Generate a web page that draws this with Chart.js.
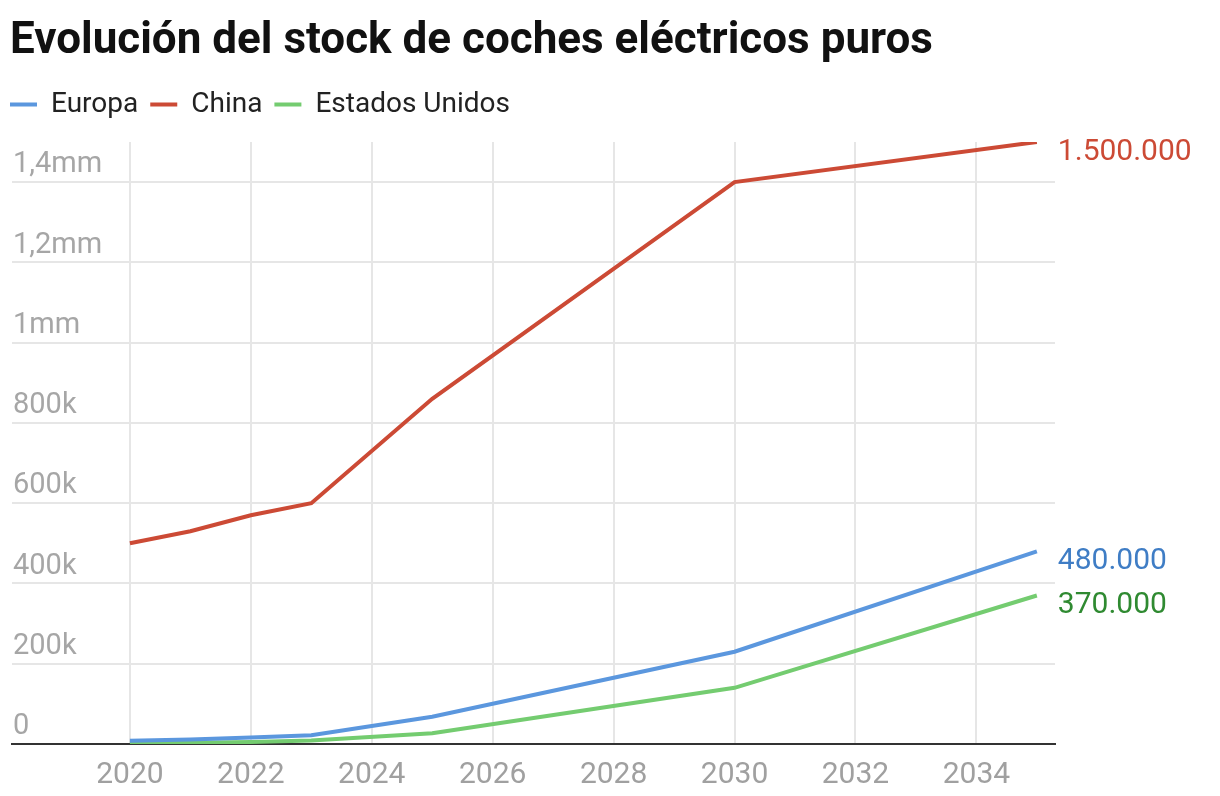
<!DOCTYPE html>
<html>
<head>
<meta charset="utf-8">
<script src="https://cdn.jsdelivr.net/npm/chart.js@4.4.1/dist/chart.umd.min.js"></script>
<style>
  html, body { margin: 0; padding: 0; background: #fff; }
  #wrap { width: 1220px; height: 796px; position: relative; }
</style>
</head>
<body>
<div id="wrap"><canvas id="stockChart"></canvas></div>
<script>
    const years = [2020, 2021, 2022, 2023, 2025, 2030, 2035];
    const europa = [8000, 11000, 16000, 22000, 68000, 230000, 480000];
    const china = [500000, 530000, 570000, 600000, 860000, 1400000, 1500000];
    const eeuu = [2000, 3000, 5000, 9000, 27000, 140000, 370000];

    const seriesNames = ['Europa', 'China', 'Estados Unidos'];
    const lineColors = ['#5b97de', '#cc4a35', '#74cc70'];
    const endLabelColors = ['#3f7dc5', '#cc4a35', '#2f8a31'];
    const endLabels = ['480.000', '1.500.000', '370.000'];

    const xTicks = [2020, 2022, 2024, 2026, 2028, 2030, 2032, 2034];
    const yTicks = [0, 200000, 400000, 600000, 800000, 1000000, 1200000, 1400000];
    const yTickLabels = ['0', '200k', '400k', '600k', '800k', '1mm', '1,2mm', '1,4mm'];

    const FONT = 'Roboto, "Liberation Sans", sans-serif';

    function toPoints(values) {
      return values.map((v, i) => ({ x: years[i], y: v }));
    }

    const allSeries = [europa, china, eeuu];

    // labels at the end of each line
    const endLabelPlugin = {
      id: 'endLabels',
      afterDatasetsDraw(chart) {
        const ctx = chart.ctx;
        ctx.save();
        ctx.font = '30px ' + FONT;
        ctx.textAlign = 'left';
        ctx.textBaseline = 'middle';
        chart.data.datasets.forEach((ds, i) => {
          const meta = chart.getDatasetMeta(i);
          const last = meta.data[meta.data.length - 1];
          ctx.fillStyle = endLabelColors[i];
          ctx.fillText(endLabels[i], last.x + 21, last.y + 10);
        });
        ctx.restore();
      }
    };

    // nudge the legend up and to the left edge
    const legendShift = {
      id: 'legendShift',
      afterLayout(chart) {
        const lg = chart.legend;
        lg.top -= 13.5; lg.bottom -= 13.5;
        lg.left -= 12; lg.right -= 12;
      }
    };

    const ctx = document.getElementById('stockChart').getContext('2d');
    const chart = new Chart(ctx, {
      type: 'line',
      data: {
        datasets: allSeries.map((vals, i) => ({
          label: seriesNames[i],
          data: toPoints(vals),
          borderColor: lineColors[i],
          backgroundColor: lineColors[i],
          borderWidth: 4,
          pointRadius: 0,
          tension: 0
        }))
      },
      plugins: [endLabelPlugin, legendShift],
      options: {
        responsive: true,
        maintainAspectRatio: false,
        animation: false,
        layout: {
          padding: { left: 10, right: 165, top: 0, bottom: 0 }
        },
        plugins: {
          title: {
            display: true,
            text: 'Evolución del stock de coches eléctricos puros',
            align: 'start',
            color: '#111',
            font: { family: FONT, size: 44, weight: 'bold' },
            padding: { top: 15.6, bottom: 23.6 }
          },
          legend: {
            align: 'start',
            labels: {
              color: '#222',
              font: { family: FONT, size: 28 },
              boxWidth: 27,
              boxHeight: 4,
              padding: 12,
              generateLabels: function (chart) {
                return Chart.defaults.plugins.legend.labels.generateLabels(chart).map(item => {
                  item.lineWidth = 0;
                  item.strokeStyle = 'rgba(0,0,0,0)';
                  return item;
                });
              }
            }
          },
          tooltip: { enabled: false }
        },
        scales: {
          x: {
            type: 'linear',
            min: 2018.05,
            max: 2035.3,
            afterBuildTicks: scale => { scale.ticks = xTicks.map(v => ({ value: v })); },
            afterFit: scale => { scale.height = 52; },
            grid: { color: '#e6e6e6', lineWidth: 2, drawTicks: false },
            border: { display: true, color: '#333', width: 2 },
            ticks: {
              color: '#a0a0a0',
              font: { family: FONT, size: 30 },
              padding: 13,
              maxRotation: 0,
              callback: v => String(v)
            }
          },
          y: {
            min: 0,
            max: 1500000,
            afterBuildTicks: scale => { scale.ticks = yTicks.map(v => ({ value: v })); },
            grid: { color: '#e6e6e6', lineWidth: 2, drawTicks: false },
            border: { display: false },
            ticks: {
              mirror: true,
              padding: 1,
              labelOffset: -17,
              color: '#a6a6a6',
              font: { family: FONT, size: 29 },
              callback: v => yTickLabels[yTicks.indexOf(v)]
            }
          }
        }
      }
    });
</script>
</body>
</html>
